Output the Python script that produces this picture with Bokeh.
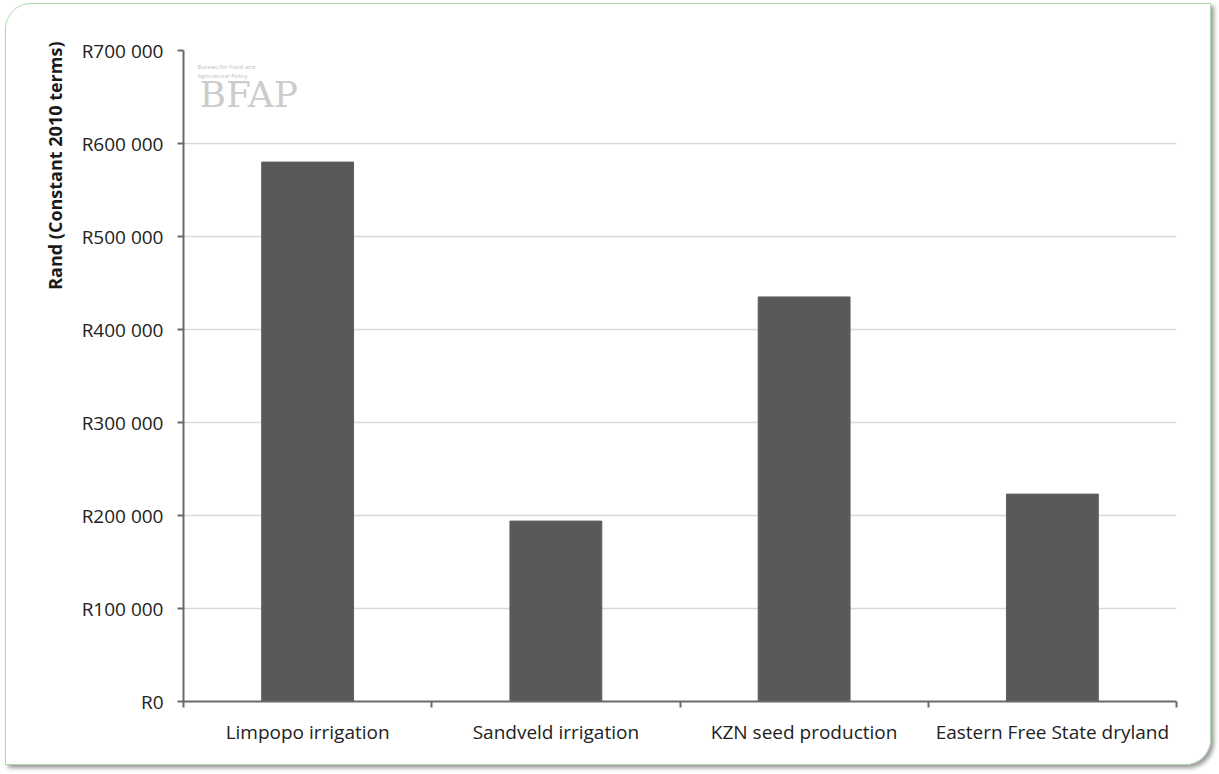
import numpy as np
from bokeh.plotting import figure
from bokeh.models import Range1d, FixedTicker, Label, Title
from bokeh.embed import file_html
from bokeh.resources import INLINE

categories = ["Limpopo irrigation", "Sandveld irrigation", "KZN seed production", "Eastern Free State dryland"]
values = [580000, 194000, 435000, 223000]
y_ticks = [0, 100000, 200000, 300000, 400000, 500000, 600000, 700000]
y_label = "Rand (Constant 2010 terms)"

FONT = "Open Sans"

p = figure(width=1206, height=762, output_backend="svg", toolbar_location=None,
           x_range=Range1d(0, len(categories)), y_range=Range1d(0, 700000),
           min_border_left=177, min_border_right=36, min_border_top=46, min_border_bottom=65)
p.styles = {"border": "1.5px solid #a9d8a9", "border-radius": "26px 0 26px 0",
            "box-shadow": "3px 3px 4px #9a9a9a", "overflow": "hidden",
            "margin": "3px 0 0 5px"}
p.outline_line_color = None
p.background_fill_color = "white"
p.border_fill_color = "white"

xs = np.arange(len(categories)) + 0.5
p.vbar(x=xs, top=values, width=0.37, fill_color="#595959", line_color="#5e5e5e", line_width=1)

# x axis: category labels at centres, ticks at boundaries
p.xaxis.ticker = FixedTicker(ticks=list(xs), minor_ticks=list(range(len(categories) + 1)))
p.xaxis.major_label_overrides = {float(x): c for x, c in zip(xs, categories)}
p.xaxis.major_tick_out = 0
p.xaxis.major_tick_in = 0
p.xaxis.minor_tick_out = 6
p.xaxis.minor_tick_in = 0
p.xaxis.minor_tick_line_color = "#6a6a6a"
p.xaxis.minor_tick_line_width = 2
p.xaxis.axis_line_color = "#6a6a6a"
p.xaxis.axis_line_width = 2
p.xaxis.major_label_text_font = FONT
p.xaxis.major_label_text_font_size = "19px"
p.xaxis.major_label_text_color = "#222222"
p.xaxis.major_label_standoff = 11

# y axis
p.yaxis.ticker = FixedTicker(ticks=y_ticks, minor_ticks=[])
p.yaxis.major_label_overrides = {v: "R" + f"{v:,}".replace(",", " ") for v in y_ticks}
p.yaxis.major_tick_out = 6
p.yaxis.major_tick_in = 0
p.yaxis.major_tick_line_color = "#6a6a6a"
p.yaxis.major_tick_line_width = 2
p.yaxis.axis_line_color = "#6a6a6a"
p.yaxis.axis_line_width = 2
p.yaxis.major_label_text_font = FONT
p.yaxis.major_label_text_font_size = "19px"
p.yaxis.major_label_text_color = "#222222"
p.yaxis.major_label_standoff = 14

p.xgrid.grid_line_color = None
p.ygrid.grid_line_color = "#d9d9d9"
p.ygrid.grid_line_width = 1.5

p.add_layout(Title(text=y_label, align="right", text_font=FONT, text_font_size="18px",
                   text_font_style="bold", text_color="#1a1a1a", standoff=24, offset=-9), "left")

# faded BFAP watermark (frame-relative screen units)
p.add_layout(Label(x=16, y=607, x_units="screen", y_units="screen", text="BFAP",
                   text_font="DejaVu Serif", text_font_size="36px", text_color="#cccccc",
                   text_baseline="alphabetic"))
p.add_layout(Label(x=14, y=621, x_units="screen", y_units="screen",
                   text="Bureau for Food and\nAgricultural Policy",
                   text_font=FONT, text_font_size="6px", text_color="#bdbdbd"))

open("out.html", "w").write(file_html(p, INLINE))
